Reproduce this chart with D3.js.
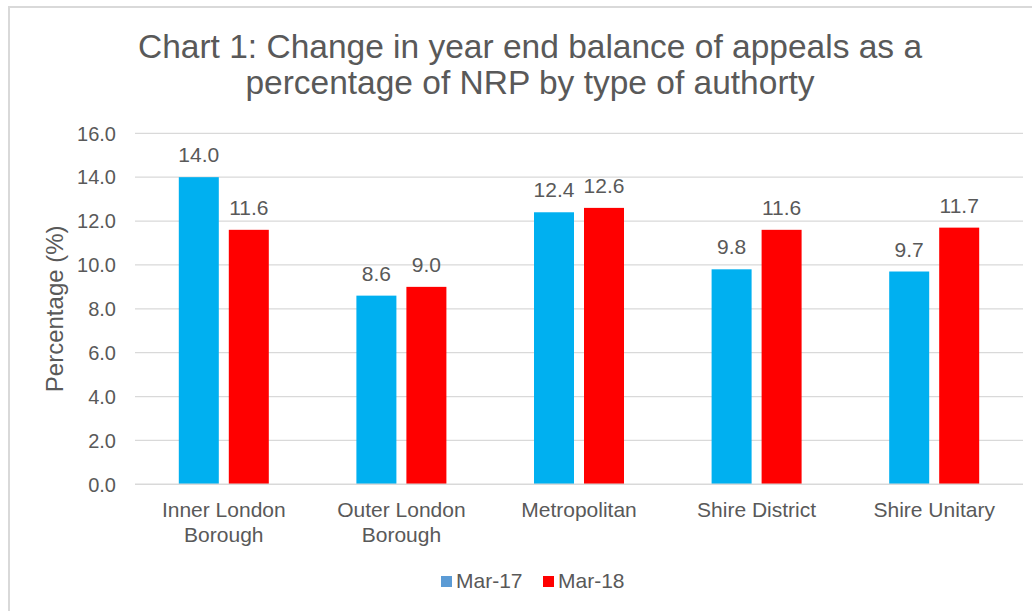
<!DOCTYPE html>
<html>
<head>
<meta charset="utf-8">
<script src="https://cdn.jsdelivr.net/npm/d3@7"></script>
<style>
  html, body { margin: 0; padding: 0; background: #fff; }
  svg { display: block; }
  text { font-family: "Liberation Sans", Arial, sans-serif; fill: #595959; }
</style>
</head>
<body>
<script>
const categories = [["Inner London", "Borough"], ["Outer London", "Borough"], ["Metropolitan"], ["Shire District"], ["Shire Unitary"]];
const seriesNames = ["Mar-17", "Mar-18"];
const mar17 = [14.0, 8.6, 12.4, 9.8, 9.7];
const mar18 = [11.6, 9.0, 12.6, 11.6, 11.7];
const yTicks = [0, 2, 4, 6, 8, 10, 12, 14, 16];
const barColors = ["#00B0F0", "#FF0000"];
const legendColors = ["#5B9BD5", "#FF0000"];
const titleLines = ["Chart 1: Change in year end balance of appeals as a", "percentage of NRP by type of authorty"];
const yTitle = "Percentage (%)";

const W = 1032, H = 611;
const svg = d3.select("body").append("svg").attr("width", W).attr("height", H);

// chart border
svg.append("rect").attr("x", 9).attr("y", 7).attr("width", W).attr("height", H)
  .attr("fill", "none").attr("stroke", "#d9d9d9").attr("stroke-width", 2);

const plot = { left: 135, right: 1023, top: 133.3, bottom: 484.3 };
const y = d3.scaleLinear().domain([0, 16]).range([plot.bottom, plot.top]);
const keys = categories.map(c => c.join(" "));
const x0 = d3.scaleBand().domain(keys).range([plot.left, plot.right]);
const x1 = d3.scaleBand().domain(seriesNames).range([0, 90]).paddingInner(0.2);
const groupOffset = (x0.bandwidth() - 90) / 2;

// gridlines
svg.append("g").selectAll("line").data(yTicks.filter(t => t > 0)).join("line")
  .attr("x1", plot.left).attr("x2", plot.right)
  .attr("y1", d => y(d)).attr("y2", d => y(d))
  .attr("stroke", "#d9d9d9").attr("stroke-width", 1.3);

// y tick labels
svg.append("g").selectAll("text").data(yTicks).join("text")
  .attr("x", 116).attr("y", d => y(d)).attr("dy", "0.36em")
  .attr("text-anchor", "end").style("font-size", "20px")
  .text(d => d.toFixed(1));

// bars
const data = keys.map((k, i) => ({ key: k, values: [mar17[i], mar18[i]] }));
const groups = svg.append("g").selectAll("g").data(data).join("g")
  .attr("transform", d => `translate(${x0(d.key) + groupOffset},0)`);
groups.selectAll("rect").data(d => d.values.map((v, j) => ({ s: seriesNames[j], v, j }))).join("rect")
  .attr("x", d => x1(d.s)).attr("width", x1.bandwidth())
  .attr("y", d => y(d.v)).attr("height", d => y(0) - y(d.v))
  .attr("fill", d => barColors[d.j]);
groups.selectAll("text").data(d => d.values.map((v, j) => ({ s: seriesNames[j], v, j }))).join("text")
  .attr("x", d => x1(d.s) + x1.bandwidth() / 2).attr("y", d => y(d.v) - 15)
  .attr("text-anchor", "middle").style("font-size", "21px")
  .text(d => d.v.toFixed(1));

// x axis line
svg.append("line").attr("x1", plot.left).attr("x2", plot.right)
  .attr("y1", plot.bottom).attr("y2", plot.bottom)
  .attr("stroke", "#d9d9d9").attr("stroke-width", 1.5);

// category labels
const cl = svg.append("g").selectAll("text").data(categories).join("text")
  .attr("text-anchor", "middle").style("font-size", "21px")
  .attr("transform", (d, i) => `translate(${x0(keys[i]) + x0.bandwidth() / 2},517)`);
cl.selectAll("tspan").data(d => d).join("tspan")
  .attr("x", 0).attr("y", (d, i) => i * 25).text(d => d);

// y axis title
svg.append("text").attr("transform", `translate(63,${(plot.top + plot.bottom) / 2}) rotate(-90)`)
  .attr("text-anchor", "middle").style("font-size", "24px").text(yTitle);

// title
svg.append("g").selectAll("text").data(titleLines).join("text")
  .attr("x", 530).attr("y", (d, i) => 58 + i * 36)
  .attr("text-anchor", "middle").style("font-size", "33.5px")
  .text(d => d);

// legend
const legendX = [441, 543];
const lg = svg.append("g").selectAll("g").data(seriesNames).join("g")
  .attr("transform", (d, i) => `translate(${legendX[i]},576)`);
lg.append("rect").attr("width", 11).attr("height", 11).attr("fill", (d, i) => legendColors[i]);
lg.append("text").attr("x", 15).attr("y", 12).style("font-size", "21px").text(d => d);
</script>
</body>
</html>
